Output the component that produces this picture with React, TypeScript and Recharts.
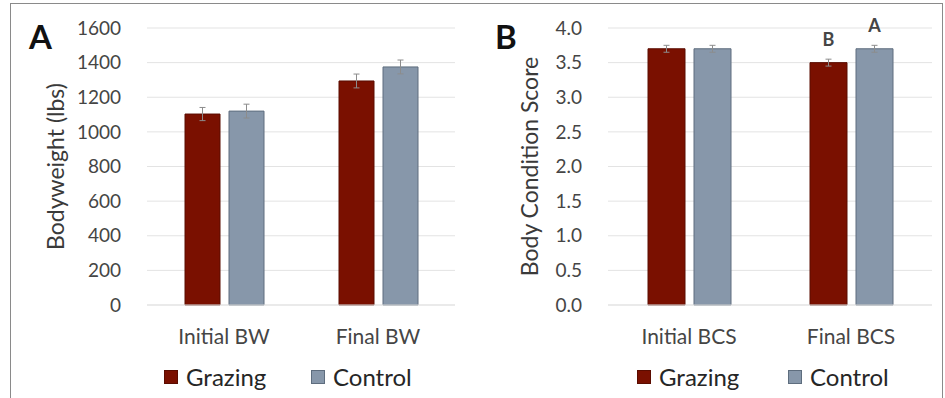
import React from 'react';
import {
  BarChart,
  Bar,
  XAxis,
  YAxis,
  CartesianGrid,
  ErrorBar,
  LabelList,
  Legend
} from 'recharts';

// Panel A - bodyweight
const bwCategories = ['Initial BW', 'Final BW'];
const bwGrazing = [1103, 1294];
const bwControl = [1120, 1375];
const bwGrazingErr = [38, 40];
const bwControlErr = [40, 40];
const bwTicks = [0, 200, 400, 600, 800, 1000, 1200, 1400, 1600];

// Panel B - body condition score
const bcsCategories = ['Initial BCS', 'Final BCS'];
const bcsGrazing = [3.7, 3.5];
const bcsControl = [3.7, 3.7];
const bcsGrazingErr = [0.05, 0.05];
const bcsControlErr = [0.05, 0.05];
const bcsGrazingLetters = ['', 'B'];
const bcsControlLetters = ['', 'A'];
const bcsTicks = [0, 0.5, 1, 1.5, 2, 2.5, 3, 3.5, 4];

const COLORS = {
  grazing: '#7a1000',
  grazingEdge: '#5a0c00',
  control: '#8797aa',
  controlEdge: '#5e6d7e',
  grid: '#e3e3e3',
  tick: '#454545',
  label: '#3a3a3a'
};

const FONT = 'Lato, "Open Sans", sans-serif';

const bwData = bwCategories.map((name, i) => ({
  name,
  grazing: bwGrazing[i],
  control: bwControl[i],
  grazingErr: bwGrazingErr[i],
  controlErr: bwControlErr[i]
}));

const bcsData = bcsCategories.map((name, i) => ({
  name,
  grazing: bcsGrazing[i],
  control: bcsControl[i],
  grazingErr: bcsGrazingErr[i],
  controlErr: bcsControlErr[i],
  gLetter: bcsGrazingLetters[i],
  cLetter: bcsControlLetters[i]
}));

const makeLegend = (grazingX: number, controlX: number) => () => (
  <div style={{ position: 'relative', height: 40, fontFamily: FONT, fontSize: 24, color: '#262626' }}>
    {[
      { x: grazingX, label: 'Grazing', fill: COLORS.grazing, edge: COLORS.grazingEdge },
      { x: controlX, label: 'Control', fill: COLORS.control, edge: COLORS.controlEdge }
    ].map((item) => (
      <div key={item.label} style={{ position: 'absolute', left: item.x, top: 4, display: 'flex', alignItems: 'center' }}>
        <span style={{ display: 'inline-block', width: 14, height: 14, background: item.fill, border: `1px solid ${item.edge}`, boxSizing: 'border-box', marginRight: 8 }} />
        <span>{item.label}</span>
      </div>
    ))}
  </div>
);

interface PanelProps {
  data: any[];
  width: number;
  left: number;
  yWidth: number;
  marginRight: number;
  ticks: number[];
  domain: [number, number];
  yLabel: string;
  labelOffset: number;
  barSize: number;
  letters?: boolean;
  fmt?: (v: number) => string;
  legendX: [number, number];
}

const Panel = (p: PanelProps) => (
  <div style={{ position: 'absolute', left: p.left, top: 0 }}>
    <BarChart
      width={p.width}
      height={398}
      data={p.data}
      margin={{ top: 28, right: p.marginRight, left: 0, bottom: 0 }}
      barGap={9}
    >
      <CartesianGrid vertical={false} stroke={COLORS.grid} />
      <XAxis
        dataKey="name"
        height={53}
        axisLine={{ stroke: COLORS.grid }}
        tickLine={false}
        tickMargin={18}
        tick={{ fill: COLORS.tick, fontSize: 21, fontFamily: FONT }}
      />
      <YAxis
        width={p.yWidth}
        domain={p.domain}
        ticks={p.ticks}
        interval={0}
        axisLine={false}
        tickLine={false}
        tickMargin={20}
        tickFormatter={p.fmt}
        tick={{ fill: COLORS.tick, fontSize: 19, fontFamily: FONT }}
        label={{
          value: p.yLabel,
          angle: -90,
          position: 'insideLeft',
          offset: p.labelOffset,
          style: { textAnchor: 'middle', fill: COLORS.label, fontSize: 23, fontFamily: FONT }
        }}
      />
      <Legend verticalAlign="bottom" height={40} wrapperStyle={{ left: 0, width: p.width }} content={makeLegend(p.legendX[0], p.legendX[1])} />
      <Bar dataKey="grazing" fill={COLORS.grazing} stroke={COLORS.grazingEdge} barSize={p.barSize} isAnimationActive={false}>
        <ErrorBar dataKey="grazingErr" width={3} stroke="#8c8c8c" strokeWidth={1} />
        {p.letters && (
          <LabelList dataKey="gLetter" position="top" offset={17} fill={COLORS.tick} fontSize={18} fontWeight="bold" fontFamily={FONT} />
        )}
      </Bar>
      <Bar dataKey="control" fill={COLORS.control} stroke={COLORS.controlEdge} barSize={p.barSize} isAnimationActive={false}>
        <ErrorBar dataKey="controlErr" width={3} stroke="#8c8c8c" strokeWidth={1} />
        {p.letters && (
          <LabelList dataKey="cLetter" position="top" offset={17} fill={COLORS.tick} fontSize={18} fontWeight="bold" fontFamily={FONT} />
        )}
      </Bar>
    </BarChart>
  </div>
);

export default function App() {
  return (
    <div style={{ position: 'absolute', left: 0, top: 0, width: 945, height: 398, background: '#fff', overflow: 'hidden' }}>
      <div style={{ position: 'absolute', left: 10, top: 3, width: 931, height: 410, border: '1.5px solid #8a8a8a' }} />
      <Panel
        data={bwData}
        width={470}
        left={0}
        yWidth={147}
        marginRight={15}
        ticks={bwTicks}
        domain={[0, 1600]}
        yLabel="Bodyweight (lbs)"
        labelOffset={56}
        barSize={35}
        legendX={[164, 311]}
      />
      <Panel
        data={bcsData}
        width={475}
        left={470}
        yWidth={138}
        marginRight={13}
        ticks={bcsTicks}
        domain={[0, 4]}
        yLabel="Body Condition Score"
        labelOffset={60}
        barSize={37}
        letters
        fmt={(v: number) => v.toFixed(1)}
        legendX={[167, 318]}
      />
      <div style={{ position: 'absolute', left: 29, top: 16, fontFamily: FONT, fontWeight: 'bold', fontSize: 33, color: '#111' }}>A</div>
      <div style={{ position: 'absolute', left: 495, top: 16, fontFamily: FONT, fontWeight: 'bold', fontSize: 33, color: '#111' }}>B</div>
    </div>
  );
}
